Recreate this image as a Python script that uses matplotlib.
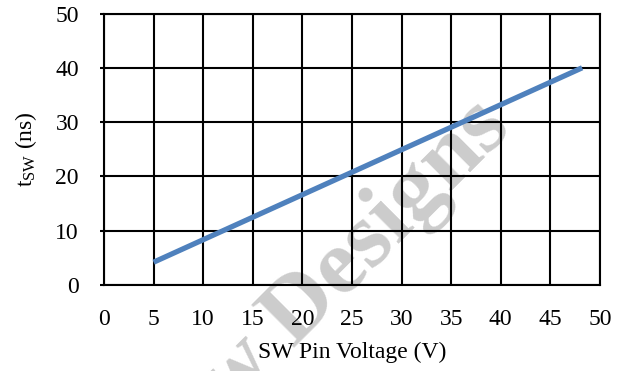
import matplotlib
matplotlib.use('Agg')
import matplotlib.pyplot as plt

# data
volts = [5, 48.2]
t_sw = [4.2, 40]
x_ticks = [0, 5, 10, 15, 20, 25, 30, 35, 40, 45, 50]
y_ticks = [0, 10, 20, 30, 40, 50]

plt.rcParams['font.family'] = ['Liberation Serif', 'DejaVu Serif']
plt.rcParams['mathtext.fontset'] = 'custom'
plt.rcParams['mathtext.rm'] = 'Liberation Serif'

fig = plt.figure(figsize=(6.25, 3.71), dpi=100)
ax = fig.add_axes([0.1664, 0.2318, 0.7936, 0.7318])
ax.patch.set_visible(False)

ax.plot(volts, t_sw, color='#4F81BD', linewidth=3.8, solid_capstyle='butt', zorder=3)

ax.set_xlim(0, 50)
ax.set_ylim(0, 50)
ax.set_xticks(x_ticks)
ax.set_yticks(y_ticks)
ax.grid(True, color='black', linewidth=1.5)
for s in ax.spines.values():
    s.set_linewidth(1.5)
ax.tick_params(axis='x', length=0, pad=17, labelsize=17)
ax.tick_params(axis='y', length=3, width=1.5, pad=15, labelsize=17)

ax.set_xlabel('SW Pin Voltage (V)', fontsize=17, labelpad=9)
ax.set_ylabel(r'$\mathregular{t_{SW}}$ (ns)', fontsize=17, labelpad=12)

# watermark behind the plot
fig.text(0.821, 0.650, 'w Designs', fontsize=68, fontweight='bold', color='#cccccc',
         rotation=45, rotation_mode='anchor', ha='right', va='baseline', zorder=-1)

fig.savefig('out.png', dpi=100)
